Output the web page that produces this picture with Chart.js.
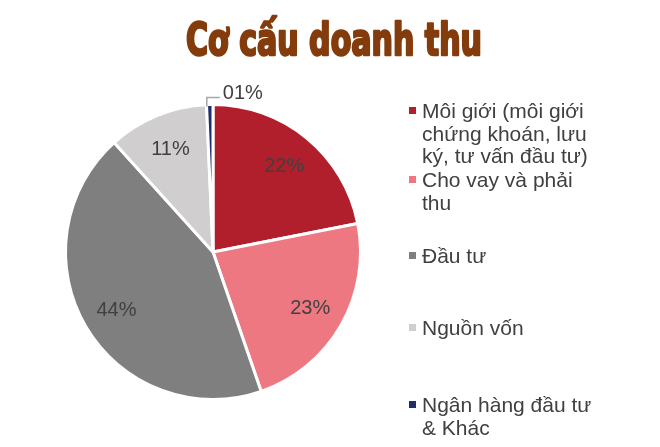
<!DOCTYPE html>
<html>
<head>
<meta charset="utf-8">
<script src="https://cdn.jsdelivr.net/npm/chart.js@4"></script>
<style>
  html, body { margin: 0; padding: 0; background: #fff; }
  #wrap { position: relative; width: 660px; height: 447px; }
</style>
</head>
<body>
<div id="wrap"><canvas id="pie" width="660" height="447"></canvas></div>
<script>
// Dữ liệu
const title = 'Cơ cấu doanh thu';
const categories = [
    'Môi giới (môi giới chứng khoán, lưu ký, tư vấn đầu tư)',
    'Cho vay và phải thu',
    'Đầu tư',
    'Nguồn vốn',
    'Ngân hàng đầu tư & Khác'
];
const legendLines = [
    ['Môi giới (môi giới', 'chứng khoán, lưu', 'ký, tư vấn đầu tư)'],
    ['Cho vay và phải', 'thu'],
    ['Đầu tư'],
    ['Nguồn vốn'],
    ['Ngân hàng đầu tư', '& Khác']
];
const shares = [21.9, 22.8, 43.6, 11.0, 0.7];
const shareLabels = ['22%', '23%', '44%', '11%', '01%'];
const colors = ['#B11F2C', '#EE7882', '#7F7F7F', '#D0CECE', '#1F2D6E'];

const textColor = '#404040';
// đường chân chữ dòng đầu của từng mục chú giải
const legendBase = [118, 187, 263, 335, 412];

// Tiêu đề + nhãn + chú giải
const overlay = {
    id: 'overlay',
    afterDraw(chart) {
        const ctx = chart.ctx;
        ctx.save();

        // tiêu đề (chữ hẹp, kéo dãn theo chiều dọc)
        ctx.fillStyle = '#843C0C';
        ctx.strokeStyle = '#843C0C';
        ctx.font = 'bold 40px "Liberation Sans Narrow", "DejaVu Sans Condensed", sans-serif';
        ctx.textBaseline = 'alphabetic';
        ctx.textAlign = 'center';
        const w = ctx.measureText(title).width;
        const capH = ctx.measureText('C').actualBoundingBoxAscent;
        ctx.translate(334, 55);
        ctx.scale(296 / w, 35 / capH);
        ctx.lineWidth = 2.2;
        ctx.lineJoin = 'round';
        ctx.fillText(title, 0, 0);
        ctx.strokeText(title, 0, 0);
        ctx.restore();

        // nhãn phần trăm
        ctx.save();
        ctx.font = '20px "Liberation Sans", Arial, sans-serif';
        ctx.fillStyle = textColor;
        ctx.textBaseline = 'middle';
        ctx.textAlign = 'center';
        const arcs = chart.getDatasetMeta(0).data;
        arcs.forEach((arc, i) => {
            const p = arc.getProps(['x', 'y', 'startAngle', 'endAngle', 'outerRadius']);
            const mid = (p.startAngle + p.endAngle) / 2;
            if (i === arcs.length - 1) {
                // nhãn ngoài với đường dẫn
                const ex = p.x + Math.cos(mid) * (p.outerRadius - 2);
                const ey = p.y + Math.sin(mid) * (p.outerRadius - 2);
                ctx.strokeStyle = '#A6A6A6';
                ctx.lineWidth = 1.5;
                ctx.beginPath();
                ctx.moveTo(ex - 3, ey);
                ctx.lineTo(ex - 3, ey - 9);
                ctx.lineTo(ex + 10, ey - 9);
                ctx.stroke();
                ctx.textAlign = 'left';
                ctx.fillText(shareLabels[i], ex + 13, ey - 13);
                return;
            }
            const r = p.outerRadius * 0.76;
            ctx.fillText(shareLabels[i], p.x + Math.cos(mid) * r, p.y + Math.sin(mid) * r + 1);
        });

        // chú giải
        ctx.font = '21px "Liberation Sans", Arial, sans-serif';
        ctx.textAlign = 'left';
        ctx.textBaseline = 'alphabetic';
        legendLines.forEach((lines, i) => {
            ctx.fillStyle = colors[i];
            ctx.fillRect(409, legendBase[i] - 11, 7, 7);
            ctx.fillStyle = textColor;
            lines.forEach((t, j) => ctx.fillText(t, 422, legendBase[i] + j * 22.5));
        });
        ctx.restore();
    }
};

new Chart(document.getElementById('pie').getContext('2d'), {
    type: 'pie',
    data: {
        labels: categories,
        datasets: [{
            data: shares,
            backgroundColor: colors,
            borderColor: '#FFFFFF',
            borderWidth: 3
        }]
    },
    options: {
        responsive: false,
        animation: false,
        layout: { padding: { left: 64, right: 298, top: 103, bottom: 46 } },
        plugins: {
            legend: { display: false },
            tooltip: { enabled: false }
        }
    },
    plugins: [overlay]
});
</script>
</body>
</html>
